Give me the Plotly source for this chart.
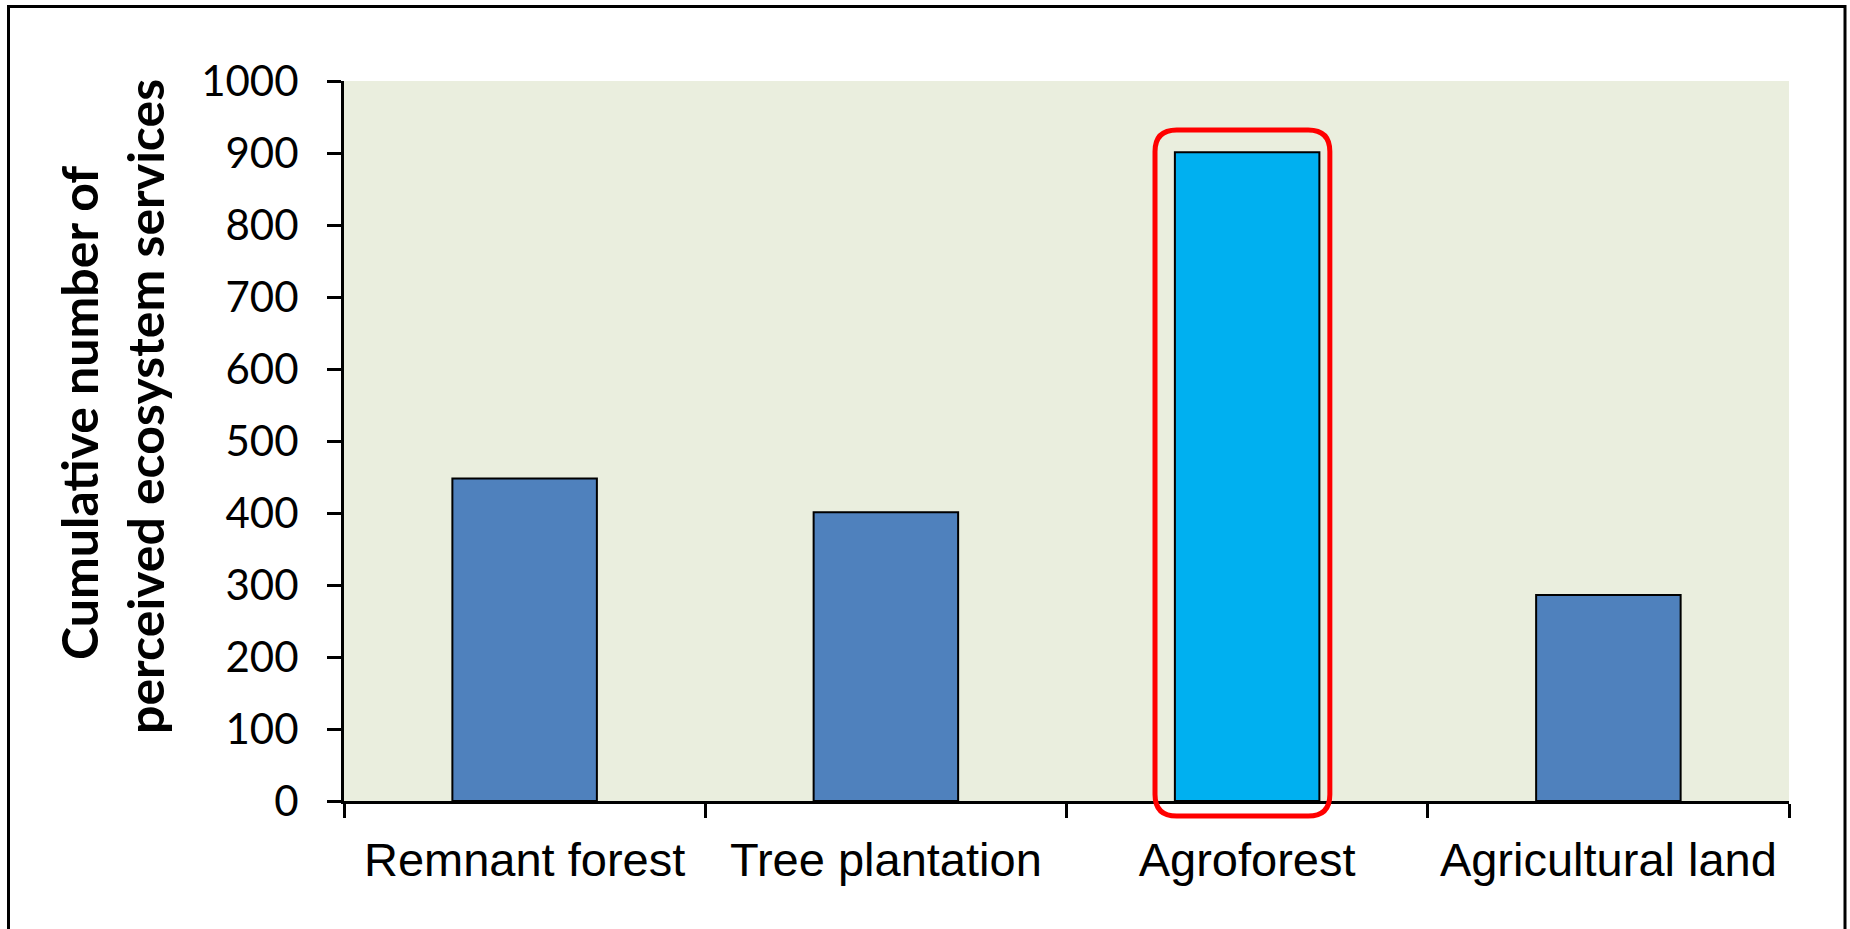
import plotly.graph_objects as go

# Land-use categories and the cumulative count of perceived ecosystem services
categories = ["Remnant forest", "Tree plantation", "Agroforest", "Agricultural land"]
services = [448, 401, 901, 286]
highlight = "Agroforest"

y_ticks = [0, 100, 200, 300, 400, 500, 600, 700, 800, 900, 1000]

BAR_BLUE = "#4F81BD"
HIGHLIGHT_BLUE = "#00B0F0"
PLOT_BG = "#EAEEDE"

W, H = 1850, 929
L, R, T, B = 344, 61, 81, 128
PW, PH = W - L - R, H - T - B


def px_x(p):
    return (p - L) / PW


def px_y(p):
    return (H - B - p) / PH


xs = list(range(len(categories)))
colors = [HIGHLIGHT_BLUE if c == highlight else BAR_BLUE for c in categories]

fig = go.Figure(
    go.Bar(
        x=xs,
        y=services,
        width=0.4,
        marker=dict(color=colors, line=dict(color="black", width=2)),
        hoverinfo="skip",
    )
)

# Rounded frame around the highlighted bar
hx = categories.index(highlight)
xl, xr = hx - 0.255, hx + 0.229
yt, yb = px_y(130), px_y(816)
rx, ry = 0.06, 0.03
path = (
    f"M {xl + rx},{yt} L {xr - rx},{yt} Q {xr},{yt} {xr},{yt - ry} "
    f"L {xr},{yb + ry} Q {xr},{yb} {xr - rx},{yb} "
    f"L {xl + rx},{yb} Q {xl},{yb} {xl},{yb + ry} "
    f"L {xl},{yt - ry} Q {xl},{yt} {xl + rx},{yt} Z"
)
fig.add_shape(
    type="path", path=path, xref="x", yref="paper",
    line=dict(color="#FF0000", width=5), fillcolor="rgba(0,0,0,0)", layer="above",
)

# Outer chart border
fig.add_shape(
    type="rect", xref="paper", yref="paper",
    x0=px_x(8.5), x1=px_x(1845), y0=px_y(960), y1=px_y(6.5),
    line=dict(color="black", width=3), fillcolor="rgba(0,0,0,0)", layer="below",
)

# Two-line rotated y-axis title
title_font = dict(family="Lato", size=50, color="black")
fig.add_annotation(
    text="<b>Cumulative number of</b>", xref="paper", yref="paper",
    x=px_x(79), y=px_y(413), textangle=-90, showarrow=False,
    xanchor="center", yanchor="middle", font=title_font,
)
fig.add_annotation(
    text="<b>perceived ecosystem services</b>", xref="paper", yref="paper",
    x=px_x(145), y=px_y(407), textangle=-90, showarrow=False,
    xanchor="center", yanchor="middle", font=title_font,
)

fig.update_layout(
    width=W, height=H,
    margin=dict(l=L, r=R, t=T, b=B, pad=0),
    paper_bgcolor="white",
    plot_bgcolor=PLOT_BG,
    showlegend=False,
    bargap=0.6,
)

fig.update_xaxes(
    range=[-0.5, len(categories) - 0.5],
    tickvals=xs, ticktext=categories, ticks="",
    tickfont=dict(family="Liberation Sans", size=47, color="black"),
    ticklabelstandoff=16,
    showline=True, linecolor="black", linewidth=3,
    showgrid=False, zeroline=False,
    minor=dict(
        tickvals=[i - 0.5 for i in range(len(categories) + 1)],
        ticks="outside", ticklen=14, tickwidth=3, tickcolor="black",
        showgrid=False,
    ),
)

fig.update_yaxes(
    range=[0, 1000],
    tickvals=y_ticks,
    ticks="outside", ticklen=14, tickwidth=3, tickcolor="black",
    tickfont=dict(family="Lato", size=42, color="black"),
    ticklabelstandoff=20,
    showline=True, linecolor="black", linewidth=3,
    showgrid=False, zeroline=False,
)

fig.write_html("out.html")
